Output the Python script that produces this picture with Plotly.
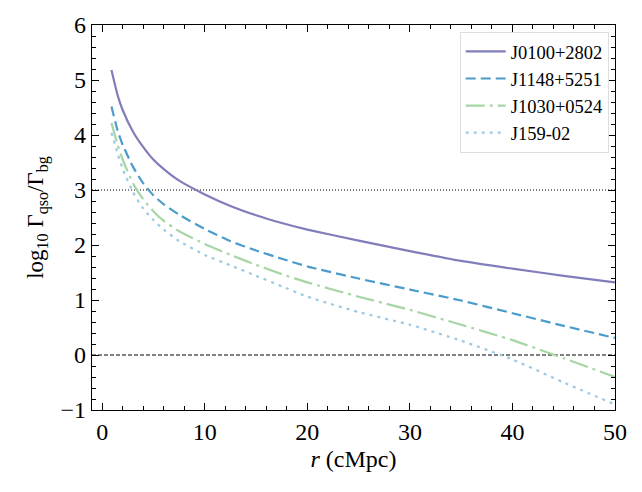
import plotly.graph_objects as go

# radial distance (cMpc)
r = [0.9, 1.5, 2, 3, 4, 5, 6, 7.5, 10, 12.5, 15, 17.5, 20, 25, 30, 35, 40, 45, 50]

names = ["J0100+2802", "J1148+5251", "J1030+0524", "J159-02"]

j0100 = [5.18, 4.72, 4.45, 4.06, 3.78, 3.55, 3.38, 3.17, 2.92, 2.71, 2.54, 2.40, 2.28, 2.08, 1.89, 1.71, 1.57, 1.44, 1.32]
j1148 = [4.52, 4.08, 3.82, 3.42, 3.12, 2.90, 2.74, 2.55, 2.29, 2.07, 1.90, 1.75, 1.61, 1.39, 1.19, 0.99, 0.76, 0.53, 0.31]
j1030 = [4.22, 3.82, 3.55, 3.12, 2.83, 2.61, 2.44, 2.25, 2.02, 1.82, 1.64, 1.47, 1.32, 1.06, 0.82, 0.55, 0.27, -0.06, -0.40]
j159 = [4.04, 3.66, 3.38, 2.96, 2.66, 2.45, 2.28, 2.07, 1.82, 1.63, 1.44, 1.25, 1.06, 0.78, 0.55, 0.26, -0.08, -0.50, -0.90]

series = [j0100, j1148, j1030, j159]
colors = ["#807dba", "#4a9ccc", "#a6d6a4", "#9ecae1"]
dashes = ["solid", "10px,5px", "19px,5px,3px,5px", "3px,5px"]

ref_levels = [3, 0]
ref_dashes = ["1px,2px", "4px,2px"]

x_range = [-1, 50]
y_range = [-1, 6]

fig = go.Figure()
for name, y, c, d in zip(names, series, colors, dashes):
    fig.add_trace(go.Scatter(x=r, y=y, mode="lines", name=name,
                             line=dict(color=c, width=2.2, dash=d, shape="spline", smoothing=0.5)))

for lev, dsh in zip(ref_levels, ref_dashes):
    fig.add_hline(y=lev, line=dict(color="black", width=1, dash=dsh), layer="below")

font_family = "Liberation Serif, DejaVu Serif, serif"
axis_common = dict(
    showline=True, linecolor="black", linewidth=1.3, mirror="ticks",
    ticks="inside", ticklen=7, tickwidth=1.3, tickcolor="black",
    showgrid=False, zeroline=False,
    tickfont=dict(size=24, color="black", family=font_family),
)
xminor = dict(dtick=2, ticklen=4, tickwidth=1, ticks="inside", tickcolor="black", showgrid=False)
yminor = dict(dtick=0.2, ticklen=4, tickwidth=1, ticks="inside", tickcolor="black", showgrid=False)

fig.update_layout(
    width=642, height=492,
    margin=dict(l=92, r=27, t=22, b=82),
    paper_bgcolor="white", plot_bgcolor="white",
    font=dict(family=font_family, color="black"),
    xaxis=dict(range=x_range, dtick=10, tick0=0, minor=xminor,
               title=dict(text="<i>r</i> (cMpc)", font=dict(size=24), standoff=6),
               **axis_common),
    yaxis=dict(range=y_range, dtick=1, tick0=0, minor=yminor,
               title=dict(text="log<sub>10</sub> Γ<sub>qso</sub>/Γ<sub>bg</sub>", font=dict(size=23), standoff=10),
               **axis_common),
    legend=dict(x=0.988, y=0.982, xanchor="right", yanchor="top",
                bgcolor="rgba(255,255,255,0.9)", bordercolor="#dddddd", borderwidth=1,
                font=dict(size=18.5, family=font_family), tracegroupgap=0, itemwidth=40),
    showlegend=True,
)

fig.write_html("out.html")
